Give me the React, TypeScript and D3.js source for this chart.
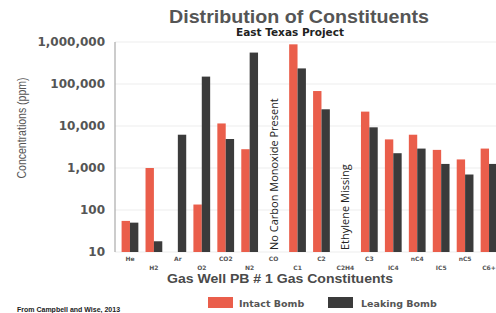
import * as d3 from "d3";

// gas constituents along the x axis (labels alternate between two rows)
const categories = ["He", "H2", "Ar", "O2", "CO2", "N2", "CO", "C1", "C2", "C2H4", "C3", "IC4", "nC4", "IC5", "nC5", "C6+"];
// concentrations in ppm (null = no bar)
const intactBomb = [55, 1000, null, 135, 11500, 2800, null, 880000, 68000, null, 22000, 4800, 6200, 2700, 1600, 2900];
const leakingBomb = [50, 18, 6200, 150000, 4900, 560000, null, 235000, 25000, null, 9300, 2250, 2900, 1250, 700, 1250];
const yTicks = [10, 100, 1000, 10000, 100000, 1000000];
const notes = [
  { cat: "CO", text: "No Carbon Monoxide Present" },
  { cat: "C2H4", text: "Ethylene Missing" },
];

const RED = "#ea5e4b";
const DARK = "#3b3b3b";

export default function App() {
  const width = 496;
  const height = 313;
  const left = 118;
  const top = 42;
  const bottom = 252;

  const x0 = d3
    .scaleBand()
    .domain(categories)
    .range([left, 501])
    .paddingInner(0.3)
    .paddingOuter(0.15);
  const x1 = d3
    .scaleBand()
    .domain(["intact", "leaking"])
    .range([0, x0.bandwidth()]);
  const y = d3.scaleLog().domain([10, 1000000]).range([bottom, top]);
  const fmt = d3.format(",");

  const series = [
    { key: "intact", values: intactBomb, color: RED },
    { key: "leaking", values: leakingBomb, color: DARK },
  ];

  return (
    <svg
      width={width}
      height={height}
      style={{ position: "fixed", left: 0, top: 0, background: "#fff" }}
    >
      <text
        x={299}
        y={22.5}
        textAnchor="middle"
        fontFamily="Liberation Sans, Arial"
        fontWeight="bold"
        fontSize={17.5}
        textLength={260}
        lengthAdjust="spacingAndGlyphs"
        fill="#555"
      >
        Distribution of Constituents
      </text>
      <text x={290} y={36} textAnchor="middle" fontFamily="Verdana, DejaVu Sans" fontWeight="bold" fontSize={10.5} fill="#222">
        East Texas Project
      </text>

      {/* gridlines + y ticks */}
      {yTicks.map((t) => (
        <g key={t}>
          <line x1={115} x2={width} y1={y(t)} y2={y(t)} stroke="#ededed" />
          <text
            x={105}
            y={y(t)}
            textAnchor="end"
            dominantBaseline="middle"
            fontFamily="Verdana, DejaVu Sans"
            fontWeight="bold"
            fontSize={12}
            fill="#555"
          >
            {fmt(t)}
          </text>
        </g>
      ))}
      <line x1={115} x2={115} y1={top} y2={bottom} stroke="#999" />

      <text
        transform={`translate(26,128) rotate(-90)`}
        textAnchor="middle"
        fontFamily="Liberation Sans, Arial, sans-serif"
        fontSize={13}
        textLength={101}
        lengthAdjust="spacingAndGlyphs"
        fill="#555"
      >
        Concentrations (ppm)
      </text>

      {/* bars */}
      {series.map((s) =>
        s.values.map((v, i) =>
          v == null ? null : (
            <rect
              key={s.key + i}
              x={x0(categories[i]) + x1(s.key)}
              y={y(v)}
              width={x1.bandwidth()}
              height={bottom - y(v)}
              fill={s.color}
            />
          )
        )
      )}

      {/* rotated notes */}
      {notes.map((n) => (
        <text
          key={n.cat}
          transform={`translate(${x0(n.cat) + x0.bandwidth() / 2 + 4},${bottom - 2}) rotate(-90)`}
          fontFamily="Open Sans, Noto Sans"
          fontSize={11}
          fill="#222"
        >
          {n.text}
        </text>
      ))}

      {/* x tick labels, two staggered rows */}
      {categories.map((c, i) => (
        <text
          key={c}
          x={x0(c) + x0.bandwidth() / 2}
          y={i % 2 === 0 ? 261 : 269.5}
          textAnchor="middle"
          fontFamily="Verdana, DejaVu Sans"
          fontWeight="bold"
          fontSize={6}
          fill="#555"
        >
          {c}
        </text>
      ))}

      <text
        x={280}
        y={282.5}
        textAnchor="middle"
        fontFamily="Liberation Sans, Arial"
        fontWeight="bold"
        fontSize={13}
        textLength={226}
        lengthAdjust="spacingAndGlyphs"
        fill="#4a4a4a"
      >
        Gas Well PB # 1 Gas Constituents
      </text>

      {/* legend */}
      <rect x={208} y={297} width={25} height={11} fill={RED} />
      <text x={239} y={306.5} fontFamily="Verdana, DejaVu Sans" fontWeight="bold" fontSize={9.5} fill="#555">
        Intact Bomb
      </text>
      <rect x={328} y={297} width={25} height={11} fill={DARK} />
      <text x={361} y={306.5} fontFamily="Verdana, DejaVu Sans" fontWeight="bold" fontSize={9.5} fill="#555">
        Leaking Bomb
      </text>

      <text x={17} y={312} fontFamily="Liberation Sans, Arial" fontWeight="bold" fontSize={7} fill="#222">
        From Campbell and Wise, 2013
      </text>
    </svg>
  );
}
